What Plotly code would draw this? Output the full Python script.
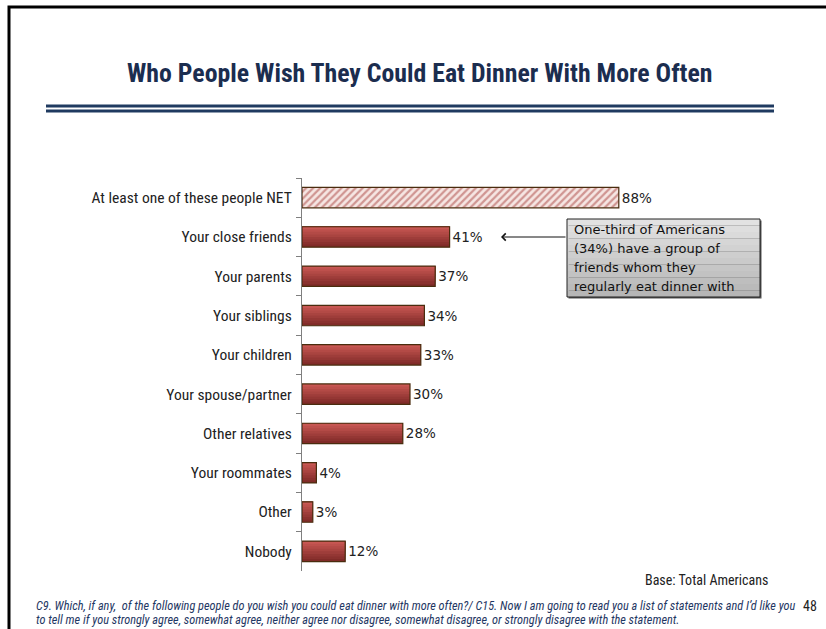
import plotly.graph_objects as go

# ---- data -------------------------------------------------------------
categories = [
    "At least one of these people NET",
    "Your close friends",
    "Your parents",
    "Your siblings",
    "Your children",
    "Your spouse/partner",
    "Other relatives",
    "Your roommates",
    "Other",
    "Nobody",
]
values = [88, 41, 37, 34, 33, 30, 28, 4, 3, 12]
net_label = "At least one of these people NET"

title_text = "Who People Wish They Could Eat Dinner With More Often"
callout_lines = [
    "One-third of Americans",
    "(34%) have a group of",
    "friends whom they",
    "regularly eat dinner with",
]
base_text = "Base: Total Americans"
footnote_lines = [
    "C9. Which, if any,  of the following people do you wish you could eat dinner with more often?/ C15. Now I am going to read you a list of statements and I\u2019d like you",
    "to tell me if you strongly agree, somewhat agree, neither agree nor disagree, somewhat disagree, or strongly disagree with the statement.",
]
page_number = "48"

# ---- page geometry (pixels) --------------------------------------------
W_PX, H_PX = 826, 629
PLOT_L, PLOT_R, PLOT_T, PLOT_B = 302, 662, 178, 571


def px(x):
    return (x - PLOT_L) / (PLOT_R - PLOT_L)


def py(y):
    return (PLOT_B - y) / (PLOT_B - PLOT_T)


NARROW = "Liberation Sans Narrow, Arial Narrow, Roboto Condensed, sans-serif"
WIDE = "DejaVu Sans, Verdana, sans-serif"

BAR_W = 0.52

net_idx = [i for i, c in enumerate(categories) if c == net_label]
solid_idx = [i for i, c in enumerate(categories) if c != net_label]
solid_cats = [categories[i] for i in solid_idx]
solid_vals = [values[i] for i in solid_idx]

fig = go.Figure()

# gradient body of the solid bars: stacked layers, lighter toward the top edge
dark = (0x80, 0x2B, 0x28)
light = (0xC8, 0x57, 0x53)
n_layers = 8
for k in range(n_layers):
    t = k / (n_layers - 1)
    col = tuple(int(dark[j] + (light[j] - dark[j]) * t) for j in range(3))
    w = BAR_W * (1 - k / n_layers)
    fig.add_trace(go.Bar(
        y=solid_cats, x=solid_vals, orientation="h",
        width=w, offset=-BAR_W / 2,
        marker=dict(color="rgb(%d,%d,%d)" % col, line=dict(width=0)),
        hoverinfo="skip", showlegend=False,
    ))

# hatched NET bar
fig.add_trace(go.Bar(
    y=[categories[i] for i in net_idx], x=[values[i] for i in net_idx],
    orientation="h", width=BAR_W, offset=-BAR_W / 2,
    marker=dict(
        color="#F6E6E3",
        pattern=dict(shape="/", fgcolor="#A9433F", bgcolor="#F6E6E3",
                     size=5, solidity=0.45),
        line=dict(width=0),
    ),
    hoverinfo="skip", showlegend=False,
))

# outlines and value labels for every bar
fig.add_trace(go.Bar(
    y=categories, x=values, orientation="h",
    width=BAR_W, offset=-BAR_W / 2,
    marker=dict(color="rgba(0,0,0,0)", line=dict(color="#4A2C0E", width=1.2)),
    text=["%d%%" % v for v in values], textposition="outside",
    textfont=dict(family=WIDE, size=13.5, color="#222222"),
    cliponaxis=False, hoverinfo="skip", showlegend=False,
))

shapes = []
# page frame: left and top rules as one open path
frame_path = "M %.5f,%.5f L %.5f,%.5f L %.5f,%.5f" % (
    px(9), py(640), px(9), py(7), px(840), py(7))
shapes.append(dict(type="path", xref="paper", yref="paper", path=frame_path,
                   line=dict(color="#000000", width=3)))
# double rule under the title
for yy in (106, 111):
    shapes.append(dict(type="line", xref="paper", yref="paper",
                       x0=px(46), x1=px(774), y0=py(yy), y1=py(yy),
                       line=dict(color="#1F3A60", width=3)))

# callout box: shadow, gradient fill, border
bx0, bx1, by0, by1 = 567, 760, 219, 297
shapes.append(dict(type="rect", xref="paper", yref="paper",
                   x0=px(bx0 + 1.5), x1=px(bx1 + 1.5), y0=py(by0 + 1.5), y1=py(by1 + 1.5),
                   fillcolor="#555555", line=dict(width=0)))
n_strips = 12
top_g, bot_g = 0xE2, 0xB6
for k in range(n_strips):
    g = int(top_g + (bot_g - top_g) * k / (n_strips - 1))
    ya = by0 + (by1 - by0) * k / n_strips
    yb = by0 + (by1 - by0) * (k + 1) / n_strips
    shapes.append(dict(type="rect", xref="paper", yref="paper",
                       x0=px(bx0), x1=px(bx1), y0=py(ya), y1=py(yb),
                       fillcolor="rgb(%d,%d,%d)" % (g, g, g), line=dict(width=0)))
shapes.append(dict(type="rect", xref="paper", yref="paper",
                   x0=px(bx0), x1=px(bx1), y0=py(by0), y1=py(by1),
                   fillcolor="rgba(0,0,0,0)", line=dict(color="#222222", width=1)))

annotations = []
annotations.append(dict(
    text="<b>%s</b>" % title_text, xref="paper", yref="paper",
    x=px(420), y=py(73), xanchor="center", yanchor="middle", showarrow=False,
    font=dict(family=NARROW, size=25.8, color="#1B2D4F"),
))
for i, line in enumerate(callout_lines):
    annotations.append(dict(
        text=line, xref="paper", yref="paper",
        x=px(572), y=py(229 + 19 * i), xanchor="left", yanchor="middle",
        align="left", showarrow=False,
        font=dict(family=WIDE, size=13, color="#111111"),
    ))
# arrow from callout toward the close-friends bar
annotations.append(dict(
    text="", xref="paper", yref="paper",
    x=px(501), y=py(237), ax=66, ay=0,
    showarrow=True, arrowhead=4, arrowsize=1.4, arrowwidth=1, arrowcolor="#111111",
    standoff=0, startstandoff=0,
))
annotations.append(dict(
    text=base_text, xref="paper", yref="paper",
    x=px(770), y=py(580), xanchor="right", yanchor="middle", showarrow=False,
    font=dict(family=NARROW, size=14, color="#222222"),
))
for i, line in enumerate(footnote_lines):
    annotations.append(dict(
        text="<i>%s</i>" % line, xref="paper", yref="paper",
        x=px(34), y=py(606 + 14 * i), xanchor="left", yanchor="middle",
        showarrow=False, font=dict(family=NARROW, size=12.3, color="#1F3864"),
    ))
annotations.append(dict(
    text=page_number, xref="paper", yref="paper",
    x=px(819), y=py(606), xanchor="right", yanchor="middle", showarrow=False,
    font=dict(family=NARROW, size=14, color="#222222"),
))

fig.update_layout(
    width=W_PX, height=H_PX,
    margin=dict(l=PLOT_L, r=W_PX - PLOT_R, t=PLOT_T, b=H_PX - PLOT_B, pad=0),
    paper_bgcolor="white", plot_bgcolor="white",
    barmode="overlay", bargap=0.48,
    shapes=shapes, annotations=annotations,
    xaxis=dict(range=[0, 100], visible=False, fixedrange=True),
    yaxis=dict(
        categoryorder="array", categoryarray=categories, autorange="reversed",
        showline=True, linecolor="#7F7F7F", linewidth=1.2,
        ticks="outside", ticklen=5, tickcolor="#7F7F7F", tickwidth=1.2,
        tickson="boundaries", showgrid=False, zeroline=False,
        tickfont=dict(family=NARROW, size=15.5, color="#222222"),
        ticklabelstandoff=6,
    ),
    showlegend=False,
)

# keep the page exactly the figure's size (no scrollbars)
fig.write_html(
    "out.html",
    config={"displayModeBar": False},
    post_script="document.documentElement.style.overflow='hidden';"
                "document.body.style.overflow='hidden';"
                "document.body.style.margin='0';",
)
